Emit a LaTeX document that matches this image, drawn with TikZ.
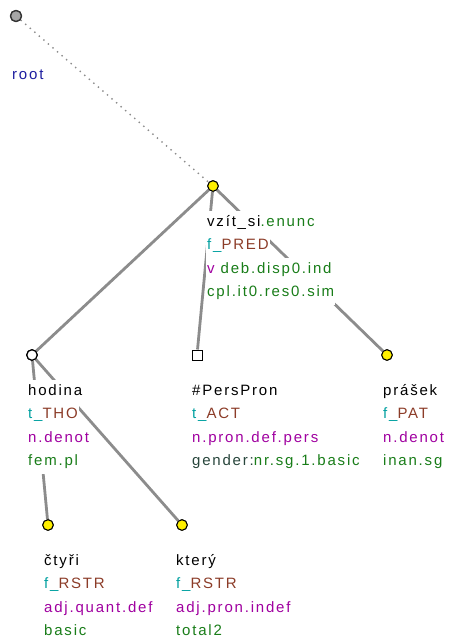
\documentclass[tikz,border=0pt]{standalone}
\usepackage{fontspec}
\setmainfont[LetterSpace=12]{Liberation Sans}
\definecolor{tealc}{RGB}{0,160,160}
\definecolor{brownc}{RGB}{140,60,40}
\definecolor{purp}{RGB}{160,0,160}
\definecolor{grn}{RGB}{25,125,25}
\definecolor{dslate}{RGB}{40,70,60}
\definecolor{rootblue}{RGB}{30,30,160}
\definecolor{edgegray}{RGB}{140,140,140}
\definecolor{nodeyellow}{RGB}{255,240,0}
\tikzset{
  tnode/.style={circle,draw=black,line width=1pt,fill=nodeyellow,minimum size=10.5pt,inner sep=0pt},
  whitenode/.style={circle,draw=black,line width=1.2pt,fill=white,minimum size=10.5pt,inner sep=0pt},
  sqnode/.style={rectangle,draw=black,line width=1pt,fill=white,minimum size=10pt,inner sep=0pt},
  rootnode/.style={circle,draw=black!80,line width=1.3pt,fill=black!35,minimum size=11pt,inner sep=0pt},
  treeedge/.style={draw=edgegray,line width=2.8pt},
  rootedge/.style={draw=black!45,line width=1.4pt,dash pattern=on 1.4pt off 4.6pt},
  lab/.style={anchor=west,fill=white,inner xsep=1pt,inner ysep=0pt,text height=11pt,text depth=3.5pt,minimum height=23.6pt,font=\fontsize{15}{18}\selectfont}
}
\begin{document}
\begin{tikzpicture}[x=1pt,y=-1pt]
\useasboundingbox (0,0) rectangle (448,643);
% nodes (graph)
\node[rootnode] (root) at (16,16) {};
\node[tnode] (vzit) at (213,186) {};
\node[whitenode] (hod) at (32,355) {};
\node[sqnode] (pers) at (197,355) {};
\node[tnode] (pras) at (387,355) {};
\node[tnode] (ctyri) at (48,525) {};
\node[tnode] (kter) at (182,525) {};
% edges
\draw[rootedge] (root) -- (vzit);
\draw[treeedge] (vzit) -- (hod);
\draw[treeedge] (vzit) -- (pers);
\draw[treeedge] (vzit) -- (pras);
\draw[treeedge] (hod) -- (ctyri);
\draw[treeedge] (hod) -- (kter);
% redraw nodes on top of edges
\node[rootnode] at (root) {};
\node[tnode] at (vzit) {};
\node[whitenode] at (hod) {};
\node[sqnode] at (pers) {};
\node[tnode] at (pras) {};
\node[tnode] at (ctyri) {};
\node[tnode] at (kter) {};
% labels: root
\node[lab,text=rootblue] (rootB) at (11,76) {root};
% vzit
\node[lab] (vzitA) at (206,223) {vzít\_si\textcolor{grn}{.enunc}};
\node[lab] (vzitB) at (206,246) {\textcolor{tealc}{f\_}\textcolor{brownc}{PRED}};
\node[lab] (vzitC) at (206,269.5) {\textcolor{purp}{v} \textcolor{grn}{deb.disp0.ind}};
\node[lab,text=grn] (vzitD) at (206,293) {cpl.it0.res0.sim};
% hodina
\node[lab] (hodA) at (27,392) {hodina};
\node[lab] (hodB) at (27,415) {\textcolor{tealc}{t\_}\textcolor{brownc}{THO}};
\node[lab,text=purp] (hodC) at (27,438.5) {n.denot};
\node[lab,text=grn] (hodD) at (27,462) {fem.pl};
% PersPron
\node[lab] (persA) at (191,392) {\#PersPron};
\node[lab] (persB) at (191,415) {\textcolor{tealc}{t\_}\textcolor{brownc}{ACT}};
\node[lab,text=purp] (persC) at (191,438.5) {n.pron.def.pers};
\node[lab] (persD) at (191,462) {\textcolor{dslate}{gender:}\textcolor{grn}{nr.sg.1.basic}};
% prasek
\node[lab] (prasA) at (382,392) {prášek};
\node[lab] (prasB) at (382,415) {\textcolor{tealc}{f\_}\textcolor{brownc}{PAT}};
\node[lab,text=purp] (prasC) at (382,438.5) {n.denot};
\node[lab,text=grn] (prasD) at (382,462) {inan.sg};
% ctyri
\node[lab] (ctyriA) at (43,562) {čtyři};
\node[lab] (ctyriB) at (43,585) {\textcolor{tealc}{f\_}\textcolor{brownc}{RSTR}};
\node[lab,text=purp] (ctyriC) at (43,608.5) {adj.quant.def};
\node[lab,text=grn] (ctyriD) at (43,632) {basic};
% ktery
\node[lab] (kterA) at (175,562) {který};
\node[lab] (kterB) at (175,585) {\textcolor{tealc}{f\_}\textcolor{brownc}{RSTR}};
\node[lab,text=purp] (kterC) at (175,608.5) {adj.pron.indef};
\node[lab,text=grn] (kterD) at (175,632) {total2};
\end{tikzpicture}
\end{document}
